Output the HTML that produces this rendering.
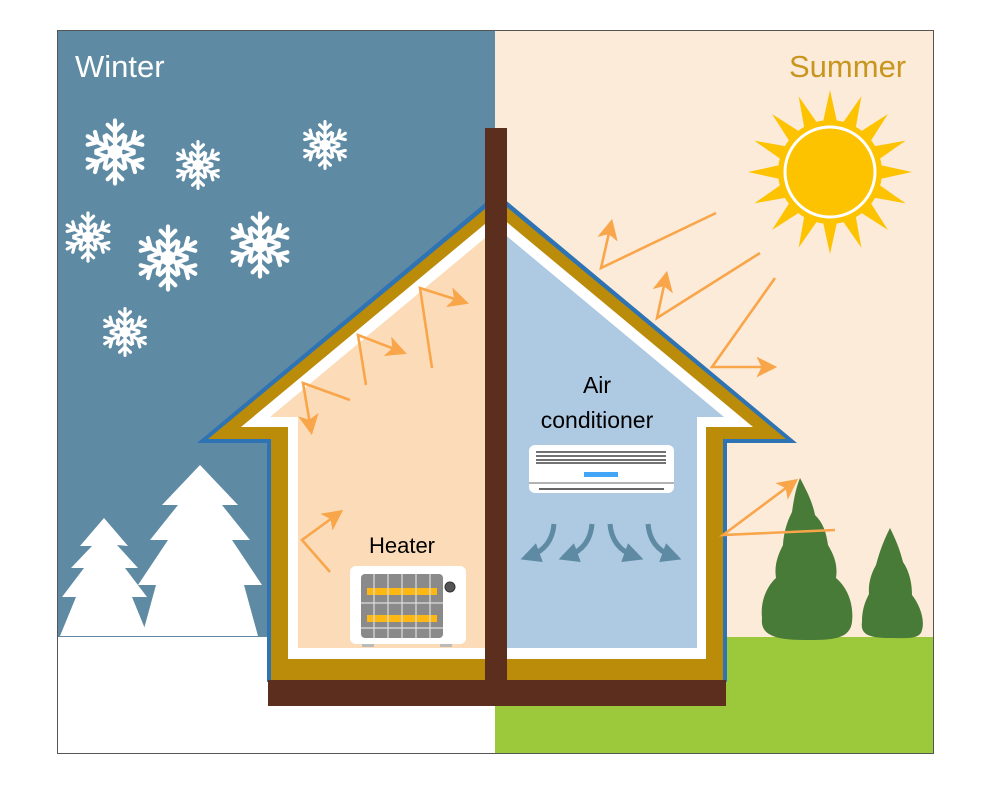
<!DOCTYPE html>
<html><head><meta charset="utf-8"><style>
html,body{margin:0;padding:0;background:#fff;}
svg{display:block}
text{font-family:"Liberation Sans",sans-serif}
</style></head><body>
<svg width="1000" height="800" viewBox="0 0 1000 800" xmlns="http://www.w3.org/2000/svg">
<defs>
<g id="flake" stroke="#fff" stroke-width="4" stroke-linecap="round" fill="none">
 <g id="arm"><line x1="0" y1="0" x2="0" y2="-30"/><polyline points="-7,-26 0,-19 7,-26"/><polyline points="-8,-16 0,-9 8,-16"/></g>
 <use href="#arm" transform="rotate(60)"/><use href="#arm" transform="rotate(120)"/>
 <use href="#arm" transform="rotate(180)"/><use href="#arm" transform="rotate(240)"/><use href="#arm" transform="rotate(300)"/>
 <circle r="5" fill="#fff"/>
</g>
<marker id="ah" markerWidth="8" markerHeight="8" refX="6" refY="4" orient="auto" markerUnits="strokeWidth">
 <path d="M0,0 L8,4 L0,8 L2,4z" fill="#f9a54a"/>
</marker>
<marker id="bh" markerWidth="4" markerHeight="4" refX="2" refY="2" orient="auto" markerUnits="strokeWidth">
 <path d="M0,0 L4,2 L0,4z" fill="#5e8aa3"/>
</marker>
</defs>
<rect x="57" y="30" width="438" height="607" fill="#5f8aa3"/>
<rect x="57" y="637" width="438" height="116" fill="#fff"/>
<rect x="495" y="30" width="438" height="607" fill="#fdebd9"/>
<rect x="495" y="637" width="438" height="116" fill="#9cc83c"/>
<rect x="57.5" y="30.5" width="876" height="723" fill="none" stroke="#555" stroke-width="1"/>
<text x="75" y="77" font-size="31" fill="#fff">Winter</text>
<text x="789" y="77" font-size="31" fill="#c8961e">Summer</text>
<use href="#flake" transform="translate(115,152) scale(1.05)"/>
<use href="#flake" transform="translate(198,165) scale(0.78)"/>
<use href="#flake" transform="translate(325,145) scale(0.78)"/>
<use href="#flake" transform="translate(88,237) scale(0.8)"/>
<use href="#flake" transform="translate(168,258) scale(1.05)"/>
<use href="#flake" transform="translate(260,245) scale(1.05)"/>
<use href="#flake" transform="translate(125,332) scale(0.78)"/>
<path d="M104,518 L128,546 L117,545 L138,568 L125,568 L147,597 L132,597 L148,636 L60,636 L76,597 L62,597 L84,568 L71,568 L92,546 L80,546 Z" fill="#fff"/>
<path d="M200,465 L238,505 L222,505 L250,540 L232,540 L262,585 L244,585 L258,636 L142,636 L156,585 L138,585 L168,540 L150,540 L178,505 L162,505 Z" fill="#fff"/>
<g transform="translate(830,172)">
 <g fill="#fdc300">
  <polygon id="ray" points="-7,-50 0,-82 7,-50"/>
  <use href="#ray" transform="rotate(22.5)"/><use href="#ray" transform="rotate(45)"/><use href="#ray" transform="rotate(67.5)"/>
  <use href="#ray" transform="rotate(90)"/><use href="#ray" transform="rotate(112.5)"/><use href="#ray" transform="rotate(135)"/>
  <use href="#ray" transform="rotate(157.5)"/><use href="#ray" transform="rotate(180)"/><use href="#ray" transform="rotate(202.5)"/>
  <use href="#ray" transform="rotate(225)"/><use href="#ray" transform="rotate(247.5)"/><use href="#ray" transform="rotate(270)"/>
  <use href="#ray" transform="rotate(292.5)"/><use href="#ray" transform="rotate(315)"/><use href="#ray" transform="rotate(337.5)"/>
 </g>
 <circle r="52" fill="#fdc300"/>
 <circle r="45" fill="none" stroke="#fff" stroke-width="3"/>
</g>
<path d="M800,478 C806,490 812,500 815,515 C822,522 826,530 828,545 C834,555 838,565 836,578 C848,588 854,605 852,622 C850,640 830,640 805,640 C775,640 760,635 762,618 C760,600 768,585 776,578 C774,565 778,555 783,545 C784,530 788,520 792,512 C794,498 796,488 800,478Z" fill="#477b37"/>
<path d="M890,528 C896,540 900,550 903,562 C910,572 912,585 912,595 C920,605 925,620 922,630 C920,640 905,638 890,638 C870,638 860,635 862,622 C862,608 866,600 869,594 C868,582 872,572 876,565 C880,550 884,540 890,528Z" fill="#477b37"/>
<polygon points="497,193 797,443 727,443 727,682 267,682 267,443 197,443" fill="#2e74b5"/>
<polygon points="497,199 786,439 723,439 723,680 271,680 271,439 208,439" fill="#bb8b0a"/>
<polygon points="497,214 753,427 706,427 706,659 288,659 288,427 241,427" fill="#fff"/>
<polygon points="497,228 270,417 298,417 298,648 497,648" fill="#fcdcb8"/>
<polygon points="497,228 724,417 697,417 697,648 497,648" fill="#aec9e2"/>
<rect x="268" y="680" width="458" height="26" fill="#5b2e1d"/>
<rect x="485" y="128" width="22" height="554" fill="#5b2e1d"/>
<g stroke="#f9a54a" stroke-width="2.6" fill="none" marker-end="url(#ah)">
 <polyline points="350,400 303,383 311,430"/>
 <polyline points="366,385 358,335 402,352"/>
 <polyline points="432,368 420,288 464,302"/>
 <polyline points="330,572 302,540 339,513"/>
 <polyline points="716,213 601,268 611,224"/>
 <polyline points="760,253 657,318 666,276"/>
 <polyline points="775,278 712,367 772,367"/>
 <polyline points="835,530 723,535 794,482"/>
</g>
<text x="597" y="393" font-size="23" fill="#000" text-anchor="middle">Air</text>
<text x="597" y="428" font-size="23" fill="#000" text-anchor="middle">conditioner</text>
<rect x="529" y="445" width="145" height="48" rx="6" fill="#fff"/>
<g stroke="#444" stroke-width="1.5"><line x1="536" y1="452" x2="666" y2="452"/><line x1="536" y1="456" x2="666" y2="456"/><line x1="536" y1="460" x2="666" y2="460"/><line x1="536" y1="463" x2="666" y2="463"/></g>
<rect x="584" y="472" width="34" height="5" fill="#42a5f5"/>
<line x1="529" y1="483" x2="674" y2="483" stroke="#999" stroke-width="1.5"/>
<line x1="539" y1="489" x2="664" y2="489" stroke="#333" stroke-width="1.5"/>
<g stroke="#5e8aa3" stroke-width="5" fill="none" marker-end="url(#bh)">
 <path d="M554,524 Q552,548 530,556"/>
 <path d="M592,524 Q590,548 568,556"/>
 <path d="M610,524 Q612,548 634,556"/>
 <path d="M648,524 Q650,548 672,556"/>
</g>
<text x="402" y="553" font-size="22" fill="#000" text-anchor="middle">Heater</text>
<rect x="350" y="566" width="116" height="78" rx="6" fill="#fff"/>
<rect x="361" y="574" width="82" height="64" rx="4" fill="#8a8a8a"/>
<rect x="367" y="588" width="70" height="7" fill="#fdb813"/>
<rect x="367" y="615" width="70" height="7" fill="#fdb813"/>
<g stroke="#ddd" stroke-width="1.2"><line x1="374" y1="574" x2="374" y2="638"/><line x1="388" y1="574" x2="388" y2="638"/><line x1="402" y1="574" x2="402" y2="638"/><line x1="416" y1="574" x2="416" y2="638"/><line x1="430" y1="574" x2="430" y2="638"/><line x1="361" y1="603" x2="443" y2="603"/><line x1="361" y1="628" x2="443" y2="628"/></g>
<circle cx="450" cy="587" r="5" fill="#555" stroke="#333"/>
<rect x="362" y="644" width="12" height="3" fill="#bbb"/><rect x="440" y="644" width="12" height="3" fill="#bbb"/>
</svg>
</body></html>
